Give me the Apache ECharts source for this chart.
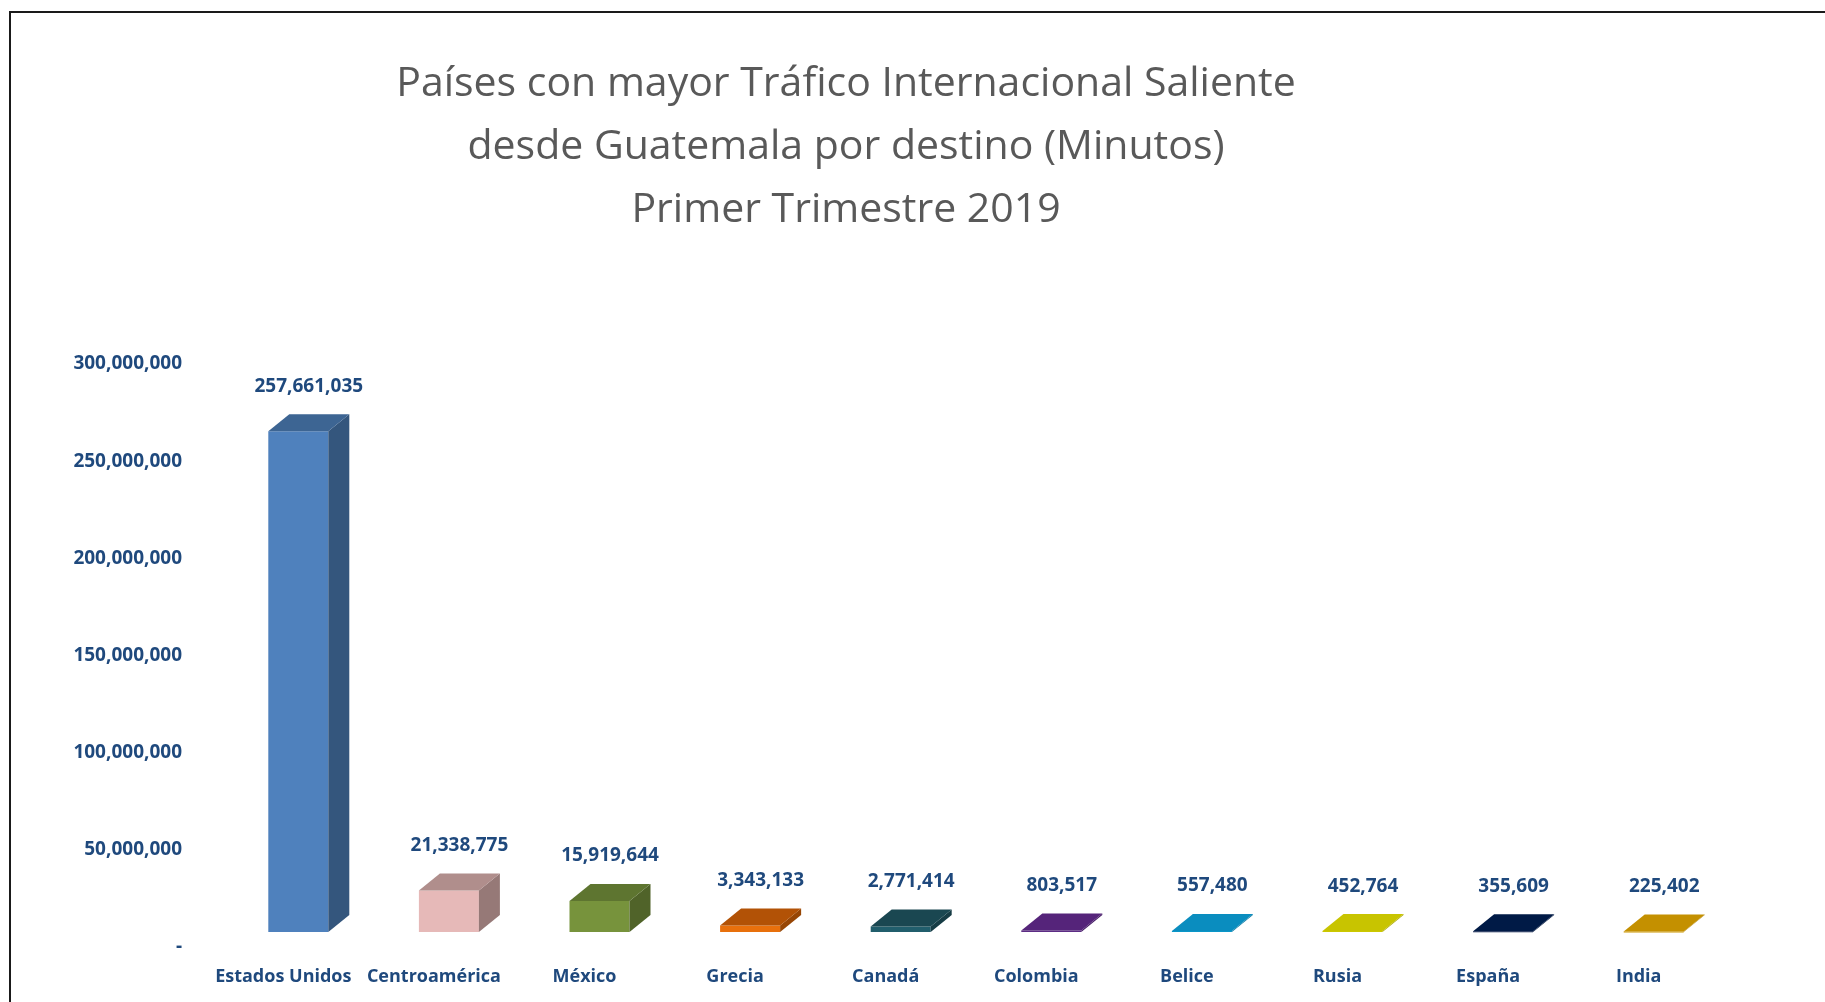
<!DOCTYPE html>
<html>
<head>
<meta charset="utf-8">
<script src="https://cdn.jsdelivr.net/npm/echarts@6/dist/echarts.min.js"></script>
<style>
  html, body { margin: 0; padding: 0; background: #ffffff; }
  #chart { width: 1825px; height: 1002px; }
</style>
</head>
<body>
<div id="chart"></div>
<script>
// ---- Data ----
const titleLines = [
  'Países con mayor Tráfico Internacional Saliente',
  'desde Guatemala por destino (Minutos)',
  'Primer Trimestre 2019'
];
const categories = ['Estados Unidos', 'Centroamérica', 'México', 'Grecia', 'Canadá',
                    'Colombia', 'Belice', 'Rusia', 'España', 'India'];
const minutes = [257661035, 21338775, 15919644, 3343133, 2771414,
                 803517, 557480, 452764, 355609, 225402];
const yTicks = { min: 0, max: 300000000, interval: 50000000 };

// ---- Styles ----
const frontColors = ['#4F81BD', '#E6B9B8', '#77933C', '#E8700C', '#215E6C',
                     '#5C2C84', '#0A96C8', '#CCC800', '#0A1E4A', '#CC9600'];
const topColors   = ['#3D6593', '#B08E8C', '#5E7530', '#B25206', '#1A4751',
                     '#55247A', '#0A8DBF', '#C8C400', '#001A46', '#C49000'];
const labelColor = '#1F497D';
const FONT = '"Open Sans", "Noto Sans", sans-serif';

function shade(hex, f) {
  const n = parseInt(hex.slice(1), 16);
  const r = Math.round(((n >> 16) & 255) * f);
  const g = Math.round(((n >> 8) & 255) * f);
  const b = Math.round((n & 255) * f);
  return 'rgb(' + r + ',' + g + ',' + b + ')';
}
function fmt(v) { return v.toLocaleString('en-US'); }

// 3D box geometry (pixels)
const OFF_X = -15, W = 60, DX = 21, DY = 17, LABEL_GAP = 28;

const chart = echarts.init(document.getElementById('chart'), null, { renderer: 'canvas' });

chart.setOption({
  backgroundColor: '#ffffff',
  animation: false,
  title: {
    text: titleLines.join('\n'),
    left: 846,
    top: 53,
    padding: 0,
    textAlign: 'center',
    textStyle: {
      fontFamily: FONT,
      fontSize: 41,
      fontWeight: 'normal',
      lineHeight: 63,
      color: '#595959'
    }
  },
  graphic: [{
    type: 'rect',
    shape: { x: 10, y: 12, width: 2000, height: 2000 },
    style: { fill: 'none', stroke: '#1a1a1a', lineWidth: 2 },
    silent: true
  }],
  grid: { left: 208, right: 111, top: 349, bottom: 70 },
  xAxis: {
    type: 'category',
    data: categories,
    axisLine: { show: false },
    axisTick: { show: false },
    axisLabel: {
      margin: 36,
      color: labelColor,
      fontFamily: FONT,
      fontWeight: 'bold',
      fontSize: 18,
      interval: 0
    }
  },
  yAxis: {
    type: 'value',
    min: yTicks.min,
    max: yTicks.max,
    interval: yTicks.interval,
    axisLine: { show: false },
    axisTick: { show: false },
    splitLine: { show: false },
    axisLabel: {
      margin: 26,
      verticalAlign: 'top',
      lineHeight: 30,
      color: labelColor,
      fontFamily: FONT,
      fontWeight: 'bold',
      fontSize: 19,
      formatter: function (v) { return v === 0 ? '-' : fmt(v); }
    }
  },
  series: [{
    type: 'custom',
    data: minutes.map(function (v, i) { return [i, v]; }),
    encode: { x: 0, y: 1 },
    renderItem: function (params, api) {
      const i = params.dataIndex;
      const v = api.value(1);
      const p = api.coord([api.value(0), v]);
      const b = api.coord([api.value(0), 0]);
      const x0 = p[0] + OFF_X, x1 = x0 + W;
      const yT = p[1], yB = b[1];
      const front = frontColors[i], top = topColors[i], side = shade(topColors[i], 0.85);
      return {
        type: 'group',
        children: [
          { type: 'rect', shape: { x: x0, y: yT, width: W, height: Math.max(yB - yT, 1) },
            style: { fill: front } },
          { type: 'polygon', shape: { points: [[x1, yB], [x1 + DX, yB - DY], [x1 + DX, yT - DY], [x1, yT]] },
            style: { fill: side } },
          { type: 'polygon', shape: { points: [[x0, yT], [x0 + DX, yT - DY], [x1 + DX, yT - DY], [x1, yT]] },
            style: { fill: top } },
          { type: 'text', x: (x0 + x1 + DX) / 2, y: yT - DY - LABEL_GAP,
            style: { text: fmt(v), align: 'center', verticalAlign: 'middle',
                     fill: labelColor, font: 'bold 19px ' + FONT } }
        ]
      };
    }
  }]
});
</script>
</body>
</html>
